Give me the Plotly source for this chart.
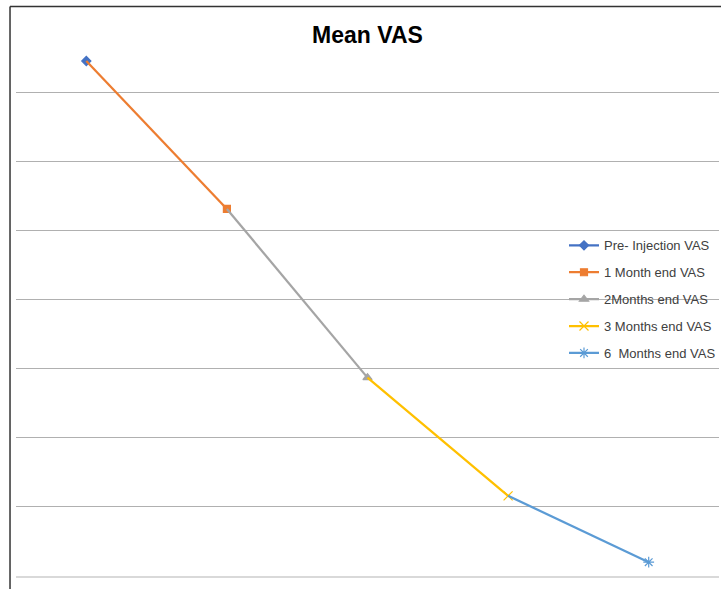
import plotly.graph_objects as go

# Data
time_points = ["Pre-Injection", "1 Month", "2 Months", "3 Months", "6 Months"]
mean_vas = [7.45, 5.31, 2.87, 1.16, 0.20]
series_names = ["Pre- Injection VAS", "1 Month end VAS", "2Months end VAS",
                "3 Months end VAS", "6  Months end VAS"]

# Styles
colors = ["#4472C4", "#ED7D31", "#A5A5A5", "#FFC000", "#5B9BD5"]
symbols = ["diamond", "square", "triangle-up", "x-thin-open", "asterisk-open"]
sizes = [7, 7, 8, 9, 9]

fig = go.Figure()
for i, name in enumerate(series_names):
    if i == 0:
        xs = [time_points[0]]
        ys = [mean_vas[0]]
        mcol = [colors[0]]
    else:
        # endpoint first so the legend picks the visible marker
        xs = [time_points[i], time_points[i - 1]]
        ys = [mean_vas[i], mean_vas[i - 1]]
        mcol = [colors[i], "rgba(0,0,0,0)"]
    fig.add_trace(go.Scatter(
        x=xs, y=ys, name=name, mode="lines+markers",
        legendgroup=f"g{i}",
        line=dict(color=colors[i], width=2.25),
        marker=dict(symbol=symbols[i], size=sizes[i], color=mcol,
                    line=dict(width=1.2, color=mcol)),
        hoverinfo="skip",
    ))

fig.update_layout(
    width=721, height=589,
    margin=dict(l=16, r=0, t=23, b=13),
    paper_bgcolor="white", plot_bgcolor="white",
    font=dict(family="Liberation Sans, Arial, sans-serif", size=13, color="#404040"),
    title=dict(text="<b>Mean VAS</b>", x=0.5, xref="paper", y=1 - 35 / 589,
               yanchor="middle", xanchor="center",
               font=dict(size=23, color="black",
                         family="Liberation Sans, Arial, sans-serif")),
    showlegend=True,
    legend=dict(x=0.780, xanchor="left", y=0.625, yanchor="top",
                bgcolor="rgba(0,0,0,0)", tracegroupgap=7,
                font=dict(size=13, color="#404040"), itemwidth=30),
    xaxis=dict(type="category", categoryarray=time_points, categoryorder="array",
               range=[-0.5, 4.5], showticklabels=False, showgrid=False,
               zeroline=False, showline=True, linecolor="#d9d9d9", linewidth=2,
               ticks=""),
    yaxis=dict(range=[0, 8], dtick=1, showticklabels=False, showgrid=True,
               gridcolor="#b0b0b0", gridwidth=1, zeroline=False, ticks=""),
    shapes=[
        dict(type="line", xref="paper", yref="paper",
             x0=(10 - 16) / 705, x1=(10 - 16) / 705,
             y0=(576 - 6.5) / 553, y1=(576 - 600) / 553,
             line=dict(color="#333333", width=1.5)),
        dict(type="line", xref="paper", yref="paper",
             x0=(10 - 16) / 705, x1=1.01,
             y0=(576 - 6.5) / 553, y1=(576 - 6.5) / 553,
             line=dict(color="#333333", width=1.5)),
    ],
)

fig.write_html(
    "out.html",
    config={"displayModeBar": False},
    post_script="document.body.style.margin='0';document.body.style.overflow='hidden';",
)
